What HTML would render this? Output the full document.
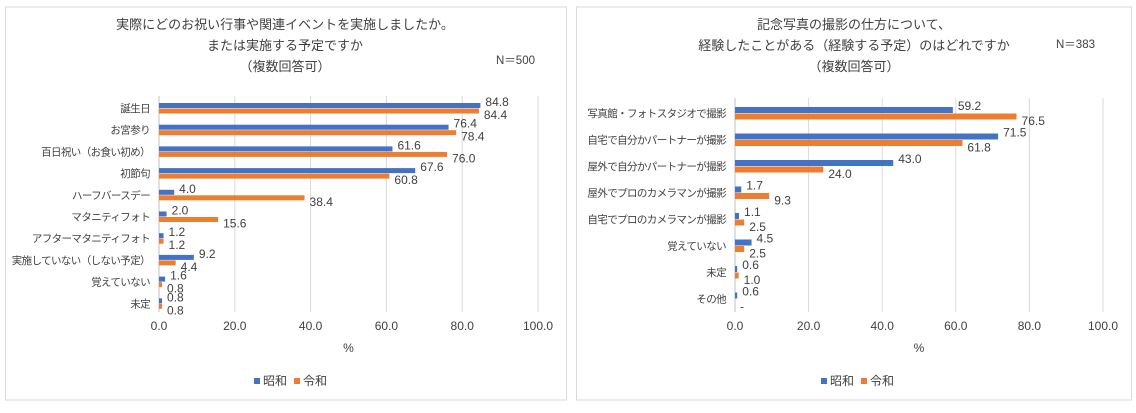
<!DOCTYPE html>
<html><head><meta charset="utf-8">
<style>
html,body{margin:0;padding:0;background:#fff;}
body{width:1136px;height:408px;overflow:hidden;font-family:"Liberation Sans","Noto Sans CJK JP",sans-serif;}
svg text{font-family:"Liberation Sans","Noto Sans CJK JP",sans-serif;fill:#404040;}
</style></head>
<body>
<svg id="chart" width="1136" height="408" xmlns="http://www.w3.org/2000/svg"></svg>
<script>
const leftCategories=["誕生日","お宮参り","百日祝い（お食い初め）","初節句","ハーフバースデー","マタニティフォト","アフターマタニティフォト","実施していない（しない予定）","覚えていない","未定"];
const leftShowa=[84.8,76.4,61.6,67.6,4.0,2.0,1.2,9.2,1.6,0.8];
const leftReiwa=[84.4,78.4,76.0,60.8,38.4,15.6,1.2,4.4,0.8,0.8];
const rightCategories=["写真館・フォトスタジオで撮影","自宅で自分かパートナーが撮影","屋外で自分かパートナーが撮影","屋外でプロのカメラマンが撮影","自宅でプロのカメラマンが撮影","覚えていない","未定","その他"];
const rightShowa=[59.2,71.5,43.0,1.7,1.1,4.5,0.6,0.6];
const rightReiwa=[76.5,61.8,24.0,9.3,2.5,2.5,1.0,0];
const rightReiwaLabels=["76.5","61.8","24.0","9.3","2.5","2.5","1.0","-"];
const tickValues=[0,20,40,60,80,100];
const tickLabels=["0.0","20.0","40.0","60.0","80.0","100.0"];

const svg=document.getElementById('chart');
const NS="http://www.w3.org/2000/svg";
function mk(tag,attrs,parent){const e=document.createElementNS(NS,tag);for(const k in attrs)e.setAttribute(k,attrs[k]);(parent||svg).appendChild(e);return e;}
function txt(s,attrs,parent){const e=mk('text',attrs,parent);e.textContent=s;return e;}

function drawChart(cfg){
  const g=mk('g',{});
  
  
  const fr=mk('rect',{x:cfg.bx,y:7,width:cfg.bw,height:393,fill:'#fff',stroke:'#d9d9d9','stroke-width':1},g);
  
  
  cfg.title.forEach((t,i)=>{
    const e=txt(t,{x:cfg.tx,y:29+i*21,'text-anchor':'middle','font-size':13,fill:'#404040'},g);
    
    
  });
  const n=txt(cfg.n,{x:cfg.nx,y:cfg.ny,'font-size':11.5},g);
  
  
  const xs=v=>cfg.x0+(cfg.x1-cfg.x0)*v/100;
  const yc=i=>cfg.y0+i*cfg.step;
  tickValues.forEach((v,i)=>{
    if(v>0){const l=mk('line',{x1:xs(v),x2:xs(v),y1:cfg.top,y2:cfg.bottom,stroke:'#d9d9d9','stroke-width':1},g);
      
      }
    const t=txt(tickLabels[i],{x:xs(v),y:330,'text-anchor':'middle','font-size':12},g);
    
    
  });
  const ax=mk('line',{x1:cfg.x0,x2:cfg.x0,y1:cfg.top,y2:cfg.bottom,stroke:'#bfbfbf','stroke-width':1},g);
  
  
  const pct=txt('%',{x:(cfg.x0+cfg.x1)/2,y:352,'text-anchor':'middle','font-size':12},g);
  
  
  cfg.cats.forEach((c,i)=>{
    const y=yc(i);
    const cl=txt(c,{x:cfg.x0-9,y:y+4,'text-anchor':'end','font-size':10.5,'letter-spacing':-0.6},g);
    
    
    const b1=mk('rect',{x:cfg.x0,y:y-cfg.bh,width:Math.max(xs(cfg.s1[i])-cfg.x0,0),height:cfg.bh,fill:'#4472c4'},g);
    
    
    const b2=mk('rect',{x:cfg.x0,y:y+0.5,width:Math.max(xs(cfg.s2[i])-cfg.x0,0),height:cfg.bh,fill:'#ed7d31'},g);
    
    
    const l1=txt(cfg.s1[i].toFixed(1),{x:xs(cfg.s1[i])+5,y:y-cfg.bh+3,'font-size':12},g);
    
    
    const lab2=cfg.l2?cfg.l2[i]:cfg.s2[i].toFixed(1);
    const l2=txt(lab2,{x:xs(cfg.s2[i])+5,y:y+cfg.bh+6,'font-size':12},g);
    
    
  });
  const lg=mk('g',{},g);
  
  
  const lx=cfg.lx;
  mk('rect',{x:lx,y:378,width:6,height:6,fill:'#4472c4'},lg);
  const e1=txt('昭和',{x:lx+9,y:385,'font-size':12},lg);
  
  
  mk('rect',{x:lx+40,y:378,width:6,height:6,fill:'#ed7d31'},lg);
  const e2=txt('令和',{x:lx+49,y:385,'font-size':12},lg);
  
  
}

drawChart({name:'left-chart',bx:5.5,bw:561,tx:285,title:['実際にどのお祝い行事や関連イベントを実施しましたか。','または実施する予定ですか','（複数回答可）'],
  n:'N＝500',nx:496,ny:64,x0:159,x1:538,top:96,bottom:312,y0:108,step:21.7,bh:5,
  cats:leftCategories,s1:leftShowa,s2:leftReiwa,lx:254});
drawChart({name:'right-chart',bx:576.5,bw:555,tx:854,title:['記念写真の撮影の仕方について、','経験したことがある（経験する予定）のはどれですか','（複数回答可）'],
  n:'N＝383',nx:1056,ny:48,x0:735,x1:1103,top:98,bottom:312,y0:113,step:26.5,bh:6,
  cats:rightCategories,s1:rightShowa,s2:rightReiwa,l2:rightReiwaLabels,lx:821});
</script>
</body></html>
